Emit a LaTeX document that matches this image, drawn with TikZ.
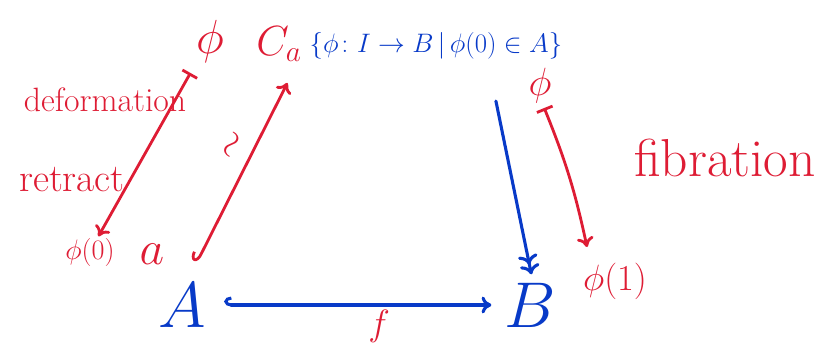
\RequirePackage{fix-cm}
\documentclass[tikz,border=0pt]{standalone}
\usepackage{amsmath}
\usepackage{xcolor}
\usetikzlibrary{arrows.meta,positioning}

\definecolor{inkred}{RGB}{222,28,52}
\definecolor{inkblue}{RGB}{8,58,200}

\begin{document}
\begin{tikzpicture}[
    x=0.025cm, y=-0.025cm,
    redtext/.style={
        inner sep=1pt,
        text=inkred,
        font=\fontsize{28}{30}\selectfont
    },
    bluetext/.style={
        inner sep=1pt,
        text=inkblue,
        font=\fontsize{46}{48}\selectfont
    },
    redarrow/.style={draw=inkred, line width=2pt, line cap=round},
    bluearrow/.style={draw=inkblue, line width=2.2pt, line cap=round}
]
    \useasboundingbox (0,0) rectangle (823,347);

    % Top row
    \node[redtext, font=\fontsize{34}{36}\selectfont] (phitop) at (210,42) {$\phi$};
    \node[redtext, font=\fontsize{30}{32}\selectfont] (ca) at (279,44) {$C_a$};
    \node[bluetext, font=\fontsize{19}{21}\selectfont, anchor=west] (pathset) at (308,46)
        {$\{\phi\colon I\to B\,|\,\phi(0)\in A\}$};

    % Left labels
    \node[redtext, font=\fontsize{24}{26}\selectfont] (deform) at (105,100) {deformation};
    \node[redtext, font=\fontsize{28}{30}\selectfont] (retract) at (72,180) {retract};
    \node[redtext, font=\fontsize{20}{22}\selectfont] (phizero) at (90,252) {$\phi(0)$};
    \node[redtext, font=\fontsize{34}{36}\selectfont] (pta) at (152,254) {$a$};

    % Right labels
    \node[redtext, font=\fontsize{28}{30}\selectfont] (phiright) at (540,86) {$\phi$};
    \node[redtext, font=\fontsize{26}{28}\selectfont] (phione) at (615,281) {$\phi(1)$};
    \node[redtext, font=\fontsize{38}{40}\selectfont] (fib) at (725,158) {fibration};

    % Bottom row
    \node[bluetext] (spA) at (182,305) {$A$};
    \node[bluetext] (spB) at (530,305) {$B$};

    % Arrows
    \draw[redarrow, {Bar[width=12pt]}-{To[length=7pt,width=12pt]}]
        (phitop.south west) ++(-4,8) -- ([xshift=6pt]phizero.north);
    \draw[redarrow, {Hooks[right,length=6pt,width=12pt]}-{To[length=7pt,width=12pt]}]
        ([xshift=22pt,yshift=-6pt]pta.east) -- ([xshift=6pt,yshift=-14pt]ca.south)
        node[pos=0.6, above=5pt, font=\fontsize{26}{28}\selectfont, text=inkred, sloped] (simlab) {$\sim$};
    \draw[bluearrow, -{To[length=7pt,width=14pt]To[length=7pt,width=14pt]}, shorten >=5pt]
        ([xshift=1.5cm,yshift=-1cm]pathset.south) -- ([xshift=2pt]spB.north);
    \draw[redarrow, {Bar[width=12pt]}-{To[length=7pt,width=12pt]}]
        ([xshift=3pt,yshift=-2pt]phiright.south) to[bend left=5] ([xshift=4pt,yshift=10pt]phione.north west);
    \draw[bluearrow, {Hooks[right,length=5pt,width=12pt]}-{To[length=7pt,width=12pt]}]
        ([xshift=12pt]spA.east) -- ([xshift=-8pt]spB.west)
        node[pos=0.58, below=-1pt, text=inkred, font=\fontsize{26}{28}\selectfont] (flab) {$f$};
\end{tikzpicture}
\end{document}
